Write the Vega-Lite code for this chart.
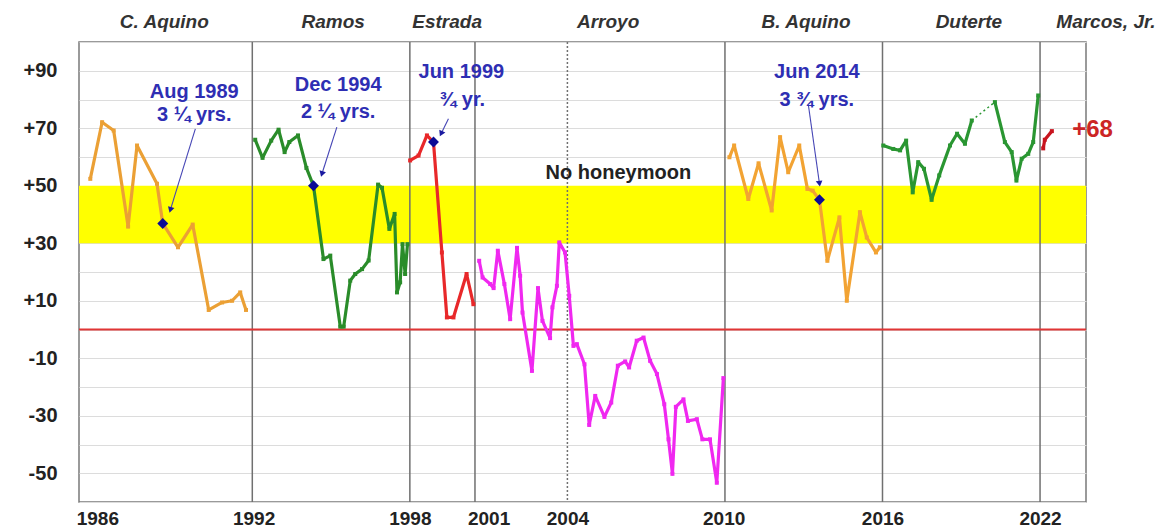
{
  "$schema": "https://vega.github.io/schema/vega-lite/v6.json",
  "width": 1007,
  "height": 460,
  "autosize": {"type": "none"},
  "padding": {"left": 79, "top": 42, "right": 85, "bottom": 26},
  "background": "white",
  "config": {"view": {"stroke": "#7a7a7a", "strokeWidth": 1.5}, "font": "Liberation Sans"},
  "datasets": {
    "series": [
      {"p": "C. Aquino", "s": "C. Aquino", "x": 1986.33, "y": 52.4},
      {"p": "C. Aquino", "s": "C. Aquino", "x": 1986.78, "y": 72.1},
      {"p": "C. Aquino", "s": "C. Aquino", "x": 1987.22, "y": 69.2},
      {"p": "C. Aquino", "s": "C. Aquino", "x": 1987.77, "y": 35.8},
      {"p": "C. Aquino", "s": "C. Aquino", "x": 1988.11, "y": 64},
      {"p": "C. Aquino", "s": "C. Aquino", "x": 1988.87, "y": 50.7},
      {"p": "C. Aquino", "s": "C. Aquino", "x": 1989.09, "y": 36.9},
      {"p": "C. Aquino", "s": "C. Aquino", "x": 1989.67, "y": 28.6},
      {"p": "C. Aquino", "s": "C. Aquino", "x": 1990.23, "y": 36.5},
      {"p": "C. Aquino", "s": "C. Aquino", "x": 1990.84, "y": 6.8},
      {"p": "C. Aquino", "s": "C. Aquino", "x": 1991.35, "y": 9.4},
      {"p": "C. Aquino", "s": "C. Aquino", "x": 1991.73, "y": 10},
      {"p": "C. Aquino", "s": "C. Aquino", "x": 1992.04, "y": 12.9},
      {"p": "C. Aquino", "s": "C. Aquino", "x": 1992.26, "y": 6.8},
      {"p": "Ramos", "s": "Ramos", "x": 1992.61, "y": 66},
      {"p": "Ramos", "s": "Ramos", "x": 1992.89, "y": 59.7},
      {"p": "Ramos", "s": "Ramos", "x": 1993.22, "y": 65.7},
      {"p": "Ramos", "s": "Ramos", "x": 1993.5, "y": 69.5},
      {"p": "Ramos", "s": "Ramos", "x": 1993.73, "y": 61.7},
      {"p": "Ramos", "s": "Ramos", "x": 1993.91, "y": 65.2},
      {"p": "Ramos", "s": "Ramos", "x": 1994.24, "y": 67.5},
      {"p": "Ramos", "s": "Ramos", "x": 1994.56, "y": 56.2},
      {"p": "Ramos", "s": "Ramos", "x": 1994.83, "y": 50},
      {"p": "Ramos", "s": "Ramos", "x": 1995.21, "y": 24.5},
      {"p": "Ramos", "s": "Ramos", "x": 1995.47, "y": 25.7},
      {"p": "Ramos", "s": "Ramos", "x": 1995.85, "y": 1},
      {"p": "Ramos", "s": "Ramos", "x": 1995.98, "y": 1},
      {"p": "Ramos", "s": "Ramos", "x": 1996.23, "y": 17},
      {"p": "Ramos", "s": "Ramos", "x": 1996.42, "y": 19.3},
      {"p": "Ramos", "s": "Ramos", "x": 1996.68, "y": 21},
      {"p": "Ramos", "s": "Ramos", "x": 1996.93, "y": 24},
      {"p": "Ramos", "s": "Ramos", "x": 1997.29, "y": 50.4},
      {"p": "Ramos", "s": "Ramos", "x": 1997.44, "y": 49.3},
      {"p": "Ramos", "s": "Ramos", "x": 1997.72, "y": 35},
      {"p": "Ramos", "s": "Ramos", "x": 1997.92, "y": 40.2},
      {"p": "Ramos", "s": "Ramos", "x": 1998.01, "y": 12.9},
      {"p": "Ramos", "s": "Ramos", "x": 1998.13, "y": 16.4},
      {"p": "Ramos", "s": "Ramos", "x": 1998.22, "y": 29.7},
      {"p": "Ramos", "s": "Ramos", "x": 1998.32, "y": 19.3},
      {"p": "Ramos", "s": "Ramos", "x": 1998.41, "y": 29.7},
      {"p": "Estrada", "s": "Estrada", "x": 1998.51, "y": 58.8},
      {"p": "Estrada", "s": "Estrada", "x": 1998.83, "y": 60.5},
      {"p": "Estrada", "s": "Estrada", "x": 1999.15, "y": 67.5},
      {"p": "Estrada", "s": "Estrada", "x": 1999.4, "y": 65.2},
      {"p": "Estrada", "s": "Estrada", "x": 1999.72, "y": 26.8},
      {"p": "Estrada", "s": "Estrada", "x": 1999.91, "y": 4.2},
      {"p": "Estrada", "s": "Estrada", "x": 2000.16, "y": 4.2},
      {"p": "Estrada", "s": "Estrada", "x": 2000.66, "y": 19.3},
      {"p": "Estrada", "s": "Estrada", "x": 2000.92, "y": 8.8},
      {"p": "Arroyo", "s": "Arroyo", "x": 2001.14, "y": 23.9},
      {"p": "Arroyo", "s": "Arroyo", "x": 2001.27, "y": 18.1},
      {"p": "Arroyo", "s": "Arroyo", "x": 2001.56, "y": 15.8},
      {"p": "Arroyo", "s": "Arroyo", "x": 2001.69, "y": 14.4},
      {"p": "Arroyo", "s": "Arroyo", "x": 2001.85, "y": 27.4},
      {"p": "Arroyo", "s": "Arroyo", "x": 2002.1, "y": 15.8},
      {"p": "Arroyo", "s": "Arroyo", "x": 2002.32, "y": 3.6},
      {"p": "Arroyo", "s": "Arroyo", "x": 2002.58, "y": 28.4},
      {"p": "Arroyo", "s": "Arroyo", "x": 2002.7, "y": 18.7},
      {"p": "Arroyo", "s": "Arroyo", "x": 2002.79, "y": 5.9},
      {"p": "Arroyo", "s": "Arroyo", "x": 2003.15, "y": -14.4},
      {"p": "Arroyo", "s": "Arroyo", "x": 2003.38, "y": 14.4},
      {"p": "Arroyo", "s": "Arroyo", "x": 2003.55, "y": 3},
      {"p": "Arroyo", "s": "Arroyo", "x": 2003.84, "y": -3},
      {"p": "Arroyo", "s": "Arroyo", "x": 2003.93, "y": 7.7},
      {"p": "Arroyo", "s": "Arroyo", "x": 2004.1, "y": 15.2},
      {"p": "Arroyo", "s": "Arroyo", "x": 2004.19, "y": 30.3},
      {"p": "Arroyo", "s": "Arroyo", "x": 2004.41, "y": 26.8},
      {"p": "Arroyo", "s": "Arroyo", "x": 2004.57, "y": 11.7},
      {"p": "Arroyo", "s": "Arroyo", "x": 2004.73, "y": -5.7},
      {"p": "Arroyo", "s": "Arroyo", "x": 2004.86, "y": -5.1},
      {"p": "Arroyo", "s": "Arroyo", "x": 2005.15, "y": -12.1},
      {"p": "Arroyo", "s": "Arroyo", "x": 2005.33, "y": -33.2},
      {"p": "Arroyo", "s": "Arroyo", "x": 2005.56, "y": -23.1},
      {"p": "Arroyo", "s": "Arroyo", "x": 2005.91, "y": -30.4},
      {"p": "Arroyo", "s": "Arroyo", "x": 2006.17, "y": -25.4},
      {"p": "Arroyo", "s": "Arroyo", "x": 2006.42, "y": -12.6},
      {"p": "Arroyo", "s": "Arroyo", "x": 2006.7, "y": -11.1},
      {"p": "Arroyo", "s": "Arroyo", "x": 2006.85, "y": -13.2},
      {"p": "Arroyo", "s": "Arroyo", "x": 2007.14, "y": -3.9},
      {"p": "Arroyo", "s": "Arroyo", "x": 2007.4, "y": -2.8},
      {"p": "Arroyo", "s": "Arroyo", "x": 2007.65, "y": -10.9},
      {"p": "Arroyo", "s": "Arroyo", "x": 2007.91, "y": -15.5},
      {"p": "Arroyo", "s": "Arroyo", "x": 2008.19, "y": -26},
      {"p": "Arroyo", "s": "Arroyo", "x": 2008.35, "y": -38.2},
      {"p": "Arroyo", "s": "Arroyo", "x": 2008.5, "y": -50.2},
      {"p": "Arroyo", "s": "Arroyo", "x": 2008.63, "y": -26.9},
      {"p": "Arroyo", "s": "Arroyo", "x": 2008.92, "y": -24.3},
      {"p": "Arroyo", "s": "Arroyo", "x": 2009.09, "y": -31.8},
      {"p": "Arroyo", "s": "Arroyo", "x": 2009.43, "y": -31.2},
      {"p": "Arroyo", "s": "Arroyo", "x": 2009.64, "y": -38.2},
      {"p": "Arroyo", "s": "Arroyo", "x": 2009.93, "y": -38.2},
      {"p": "Arroyo", "s": "Arroyo", "x": 2010.19, "y": -53.3},
      {"p": "Arroyo", "s": "Arroyo", "x": 2010.44, "y": -16.9},
      {"p": "B. Aquino", "s": "B. Aquino", "x": 2010.67, "y": 59.9},
      {"p": "B. Aquino", "s": "B. Aquino", "x": 2010.85, "y": 64},
      {"p": "B. Aquino", "s": "B. Aquino", "x": 2011.39, "y": 45.4},
      {"p": "B. Aquino", "s": "B. Aquino", "x": 2011.78, "y": 57.8},
      {"p": "B. Aquino", "s": "B. Aquino", "x": 2012.28, "y": 41.4},
      {"p": "B. Aquino", "s": "B. Aquino", "x": 2012.6, "y": 66.9},
      {"p": "B. Aquino", "s": "B. Aquino", "x": 2012.91, "y": 54.7},
      {"p": "B. Aquino", "s": "B. Aquino", "x": 2013.33, "y": 64},
      {"p": "B. Aquino", "s": "B. Aquino", "x": 2013.64, "y": 48.9},
      {"p": "B. Aquino", "s": "B. Aquino", "x": 2013.84, "y": 48.3},
      {"p": "B. Aquino", "s": "B. Aquino", "x": 2014.1, "y": 45.1},
      {"p": "B. Aquino", "s": "B. Aquino", "x": 2014.4, "y": 23.9},
      {"p": "B. Aquino", "s": "B. Aquino", "x": 2014.86, "y": 39},
      {"p": "B. Aquino", "s": "B. Aquino", "x": 2015.14, "y": 10},
      {"p": "B. Aquino", "s": "B. Aquino", "x": 2015.64, "y": 40.8},
      {"p": "B. Aquino", "s": "B. Aquino", "x": 2015.9, "y": 32},
      {"p": "B. Aquino", "s": "B. Aquino", "x": 2016.25, "y": 26.8},
      {"p": "B. Aquino", "s": "B. Aquino", "x": 2016.4, "y": 28.6},
      {"p": "Duterte", "s": "Duterte a", "x": 2016.53, "y": 64},
      {"p": "Duterte", "s": "Duterte a", "x": 2016.91, "y": 62.8},
      {"p": "Duterte", "s": "Duterte a", "x": 2017.17, "y": 62.3},
      {"p": "Duterte", "s": "Duterte a", "x": 2017.4, "y": 65.7},
      {"p": "Duterte", "s": "Duterte a", "x": 2017.65, "y": 47.7},
      {"p": "Duterte", "s": "Duterte a", "x": 2017.86, "y": 58.2},
      {"p": "Duterte", "s": "Duterte a", "x": 2018.08, "y": 55.9},
      {"p": "Duterte", "s": "Duterte a", "x": 2018.37, "y": 45.1},
      {"p": "Duterte", "s": "Duterte a", "x": 2018.66, "y": 53.6},
      {"p": "Duterte", "s": "Duterte a", "x": 2019.07, "y": 64},
      {"p": "Duterte", "s": "Duterte a", "x": 2019.34, "y": 68.1},
      {"p": "Duterte", "s": "Duterte a", "x": 2019.64, "y": 64.6},
      {"p": "Duterte", "s": "Duterte a", "x": 2019.9, "y": 72.7},
      {"p": "Duterte", "s": "Duterte b", "x": 2020.78, "y": 79.1},
      {"p": "Duterte", "s": "Duterte b", "x": 2021.16, "y": 65.2},
      {"p": "Duterte", "s": "Duterte b", "x": 2021.42, "y": 61.7},
      {"p": "Duterte", "s": "Duterte b", "x": 2021.6, "y": 51.8},
      {"p": "Duterte", "s": "Duterte b", "x": 2021.8, "y": 59.4},
      {"p": "Duterte", "s": "Duterte b", "x": 2022.05, "y": 61.1},
      {"p": "Duterte", "s": "Duterte b", "x": 2022.24, "y": 65.2},
      {"p": "Duterte", "s": "Duterte b", "x": 2022.43, "y": 81.4},
      {"p": "Marcos, Jr.", "s": "Marcos, Jr.", "x": 2022.62, "y": 63},
      {"p": "Marcos, Jr.", "s": "Marcos, Jr.", "x": 2022.68, "y": 66},
      {"p": "Marcos, Jr.", "s": "Marcos, Jr.", "x": 2022.95, "y": 69}
    ],
    "gap": [
      {"x": 2019.9, "y": 72.7},
      {"x": 2020.78, "y": 79.1}
    ],
    "lows": [
      {"x": 1989.09, "y": 36.9},
      {"x": 1994.83, "y": 50},
      {"x": 1999.4, "y": 65.2},
      {"x": 2014.1, "y": 45.1}
    ],
    "arrows": [
      {"ann": "Aug 1989", "x0": 1990.33, "y0": 69.8, "x": 1989.38, "y": 41.6},
      {"ann": "Dec 1994", "x0": 1995.72, "y0": 70.4, "x": 1995.15, "y": 54.1},
      {"ann": "Jun 1999", "x0": 1999.97, "y0": 73.3, "x": 1999.69, "y": 68.1},
      {"ann": "Jun 2014", "x0": 2013.68, "y0": 77.9, "x": 2014.1, "y": 50.7}
    ],
    "notes": [
      {"t": "Aug 1989", "x": 1990.29, "y": 82.6},
      {"t": "3 ¼ yrs.", "x": 1990.29, "y": 74.6},
      {"t": "Dec 1994", "x": 1995.77, "y": 85.0},
      {"t": "2 ¼ yrs.", "x": 1995.77, "y": 75.7},
      {"t": "Jun 1999", "x": 2000.46, "y": 89.6},
      {"t": "¾ yr.", "x": 2000.5, "y": 79.8},
      {"t": "Jun 2014", "x": 2014.0, "y": 89.6},
      {"t": "3 ¾ yrs.", "x": 2014.0, "y": 79.8}
    ],
    "names": [
      {"t": "C. Aquino", "x": 1989.15, "y": 107},
      {"t": "Ramos", "x": 1995.58, "y": 107},
      {"t": "Estrada", "x": 1999.92, "y": 107},
      {"t": "Arroyo", "x": 2006.05, "y": 107},
      {"t": "B. Aquino", "x": 2013.59, "y": 107},
      {"t": "Duterte", "x": 2019.79, "y": 107},
      {"t": "Marcos, Jr.", "x": 2025.01, "y": 107}
    ],
    "terms": [
      {"x": 1992.5, "k": "term"},
      {"x": 1998.5, "k": "term"},
      {"x": 2000.98, "k": "term"},
      {"x": 2004.5, "k": "mid"},
      {"x": 2010.5, "k": "term"},
      {"x": 2016.5, "k": "term"},
      {"x": 2022.5, "k": "term"}
    ]
  },
  "layer": [
    {
      "data": {"values": [{"lo": 30, "hi": 50}]},
      "mark": {"type": "rect", "color": "#FFFF00"},
      "encoding": {
        "y": {
          "field": "lo", "type": "quantitative", "title": null,
          "scale": {"domain": [-60, 100], "nice": false, "zero": false},
          "axis": {
            "values": [-60, -50, -40, -30, -20, -10, 0, 10, 20, 30, 40, 50, 60, 70, 80, 90, 100],
            "labelExpr": "datum.value % 20 == 0 ? '' : (datum.value > 0 ? '+' + datum.value : '' + datum.value)",
            "grid": true, "gridColor": "#dcdcdc", "gridWidth": 1,
            "ticks": false, "domain": false, "title": null,
            "labelFont": "Liberation Sans", "labelFontWeight": "bold", "labelFontSize": 20,
            "labelColor": "#222222", "labelPadding": 22, "labelOverlap": false
          }
        },
        "y2": {"field": "hi"}
      }
    },
    {
      "data": {"name": "terms"},
      "mark": {"type": "rule", "color": "#707070", "strokeWidth": 1.5},
      "encoding": {
        "x": {
          "field": "x", "type": "quantitative", "title": null,
          "scale": {"domain": [1985.9, 2024.25], "nice": false, "zero": false},
          "axis": {
            "values": [1986.6, 1992.55, 1998.5, 2001.5, 2004.5, 2010.45, 2016.5, 2022.5],
            "labelExpr": "floor(datum.value)",
            "grid": false, "ticks": false, "domain": false, "title": null,
            "labelFont": "Liberation Sans", "labelFontWeight": "bold", "labelFontSize": 19,
            "labelColor": "#222222", "labelPadding": 7, "labelFlush": false, "labelOverlap": false
          }
        },
        "strokeDash": {"field": "k", "type": "nominal", "legend": null,
          "scale": {"domain": ["term", "mid"], "range": [[1, 0], [2, 2]]}}
      }
    },
    {
      "data": {"values": [{"v": 0}]},
      "mark": {"type": "rule", "color": "#E03535", "strokeWidth": 2},
      "encoding": {
        "y": {
          "field": "v", "type": "quantitative", "title": null,
          "scale": {"domain": [-60, 100], "nice": false, "zero": false},
          "axis": {
            "values": [-60, -50, -40, -30, -20, -10, 0, 10, 20, 30, 40, 50, 60, 70, 80, 90, 100],
            "labelExpr": "datum.value % 20 == 0 ? '' : (datum.value > 0 ? '+' + datum.value : '' + datum.value)",
            "grid": true, "gridColor": "#dcdcdc", "gridWidth": 1,
            "ticks": false, "domain": false, "title": null,
            "labelFont": "Liberation Sans", "labelFontWeight": "bold", "labelFontSize": 20,
            "labelColor": "#222222", "labelPadding": 22, "labelOverlap": false
          }
        }
      }
    },
    {
      "encoding": {
        "x": {
          "field": "x", "type": "quantitative", "title": null,
          "scale": {"domain": [1985.9, 2024.25], "nice": false, "zero": false},
          "axis": {
            "values": [1986.6, 1992.55, 1998.5, 2001.5, 2004.5, 2010.45, 2016.5, 2022.5],
            "labelExpr": "floor(datum.value)",
            "grid": false, "ticks": false, "domain": false, "title": null,
            "labelFont": "Liberation Sans", "labelFontWeight": "bold", "labelFontSize": 19,
            "labelColor": "#222222", "labelPadding": 7, "labelFlush": false, "labelOverlap": false
          }
        },
        "y": {
          "field": "y", "type": "quantitative", "title": null,
          "scale": {"domain": [-60, 100], "nice": false, "zero": false},
          "axis": {
            "values": [-60, -50, -40, -30, -20, -10, 0, 10, 20, 30, 40, 50, 60, 70, 80, 90, 100],
            "labelExpr": "datum.value % 20 == 0 ? '' : (datum.value > 0 ? '+' + datum.value : '' + datum.value)",
            "grid": true, "gridColor": "#dcdcdc", "gridWidth": 1,
            "ticks": false, "domain": false, "title": null,
            "labelFont": "Liberation Sans", "labelFontWeight": "bold", "labelFontSize": 20,
            "labelColor": "#222222", "labelPadding": 22, "labelOverlap": false
          }
        }
      },
      "layer": [
        {
          "data": {"name": "gap"},
          "mark": {"type": "line", "color": "#2A9632", "strokeWidth": 1.5, "strokeDash": [2, 3]}
        },
        {
          "data": {"name": "series"},
          "mark": {"type": "line", "strokeWidth": 3.2, "strokeJoin": "round"},
          "encoding": {
            "color": {"field": "p", "type": "nominal", "legend": null,
              "scale": {"domain": ["C. Aquino", "Ramos", "Estrada", "Arroyo", "B. Aquino", "Duterte", "Marcos, Jr."],
                        "range": ["#EBA035", "#2A8C2A", "#E8282A", "#F028F0", "#F2A333", "#2A9632", "#C8141E"]}},
            "detail": {"field": "s"}
          }
        },
        {
          "data": {"name": "series"},
          "mark": {"type": "point", "shape": "square", "filled": true, "size": 16, "opacity": 1},
          "encoding": {
            "color": {"field": "p", "type": "nominal", "legend": null}
          }
        },
        {
          "data": {"name": "lows"},
          "mark": {"type": "point", "shape": "diamond", "filled": true, "size": 120, "color": "#0B0B96", "opacity": 1}
        },
        {
          "data": {"name": "arrows"},
          "mark": {"type": "rule", "color": "#4545B5", "strokeWidth": 1.1},
          "encoding": {
            "x": {"field": "x0"},
            "y": {"field": "y0"},
            "x2": {"field": "x"},
            "y2": {"field": "y"}
          }
        },
        {
          "data": {"name": "arrows"},
          "mark": {"type": "point", "shape": "triangle-down", "filled": true, "size": 45, "color": "#1A1AA0", "opacity": 1,
            "angle": {"expr": "datum.ann == 'Jun 2014' ? 352 : (datum.ann == 'Jun 1999' ? 25 : 17)"}}
        },
        {
          "data": {"name": "notes"},
          "mark": {"type": "text", "color": "#2E2EB3", "fontSize": 20, "fontWeight": "bold", "font": "Liberation Sans", "align": "center", "baseline": "middle"},
          "encoding": {"text": {"field": "t"}}
        },
        {
          "data": {"name": "names"},
          "mark": {"type": "text", "color": "#333333", "fontSize": 19, "fontWeight": "bold", "fontStyle": "italic", "font": "Liberation Sans", "align": "center", "baseline": "middle"},
          "encoding": {"text": {"field": "t"}}
        },
        {
          "data": {"values": [{"t": "No honeymoon", "x": 2006.44, "y": 54.5}]},
          "mark": {"type": "text", "color": "#222222", "fontSize": 20, "fontWeight": "bold", "font": "Liberation Sans", "align": "center", "baseline": "middle"},
          "encoding": {"text": {"field": "t"}}
        },
        {
          "data": {"values": [{"t": "+68", "x": 2024.5, "y": 69.4}]},
          "mark": {"type": "text", "color": "#CC2525", "fontSize": 24, "fontWeight": "bold", "font": "Liberation Sans", "align": "center", "baseline": "middle"},
          "encoding": {"text": {"field": "t"}}
        }
      ]
    }
  ]
}
